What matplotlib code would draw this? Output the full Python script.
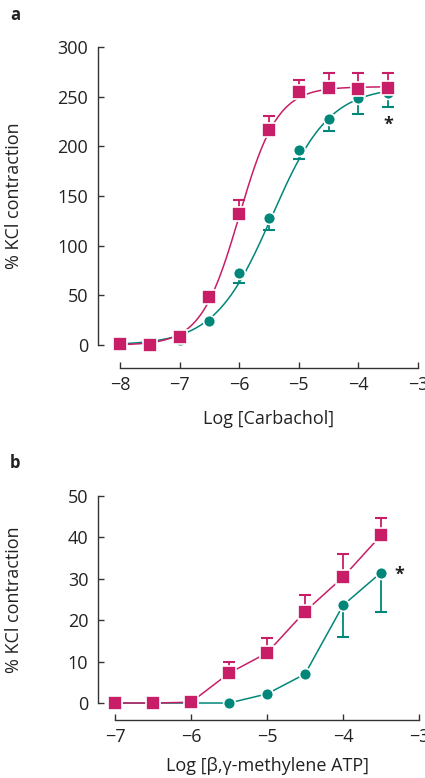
import numpy as np
import matplotlib
matplotlib.use("Agg")
import matplotlib.pyplot as plt

plt.rcParams['font.family'] = ['Open Sans', 'DejaVu Sans']

PINK = '#c81e67'
TEAL = '#00877a'
AXC = '#333333'

# ---- panel a : carbachol ----
carb_x = [-8, -7.5, -7, -6.5, -6, -5.5, -5, -4.5, -4, -3.5]
carb_pink = [1, 0, 8, 48, 132, 216, 255, 259, 258, 259]
carb_pink_err = [0, 0, 0, 0, 14, 15, 12, 15, 16, 15]
carb_teal = [0, 0, 5, 24.5, 73, 128, 196, 228, 249, 254]
carb_teal_err = [0, 0, 0, 0, 10, 12, 9, 13, 16, 14]
# fitted sigmoid parameters (top, logEC50, hill slope)
carb_pink_fit = (260, -6.0, 1.35)
carb_teal_fit = (260, -5.45, 0.9)

# ---- panel b : beta,gamma-methylene ATP ----
atp_x = [-7, -6.5, -6, -5.5, -5, -4.5, -4, -3.5]
atp_pink = [0, 0, 0.2, 7.2, 12.1, 22.1, 30.4, 40.5]
atp_pink_err = [0, 0, 0, 2.8, 3.5, 4.1, 5.6, 4.3]
atp_teal = [0, 0, 0, 0, 2.2, 7.0, 23.6, 31.5]
atp_teal_err = [0, 0, 0, 0, 0, 0, 7.6, 9.6]


def hill(x, top, logec50, h):
    return top / (1 + 10 ** ((logec50 - x) * h))


def style_axes(ax, xb, yb, xticks, yticks):
    for s in ['top', 'right']:
        ax.spines[s].set_visible(False)
    for s in ['left', 'bottom']:
        ax.spines[s].set_color(AXC)
        ax.spines[s].set_linewidth(1.0)
    ax.spines['bottom'].set_bounds(*xb)
    ax.spines['left'].set_bounds(*yb)
    ax.set_xticks(xticks)
    ax.set_yticks(yticks)
    ax.tick_params(axis='both', direction='in', length=4.5, width=1.0,
                   color=AXC, labelsize=13, labelcolor='#222222')
    ax.tick_params(axis='y', pad=7)
    ax.tick_params(axis='x', pad=6)


def draw_series(ax, x, y, err, color, marker, ms, up, fit=None, xfit=None):
    if fit is not None:
        ax.plot(xfit, hill(xfit, *fit), color=color, lw=1.1, zorder=2)
    else:
        ax.plot(x, y, color=color, lw=1.1, zorder=2)
    yerr = [np.zeros(len(err)), err] if up else [err, np.zeros(len(err))]
    ax.errorbar(x, y, yerr=yerr, fmt='none', ecolor=color, elinewidth=1.3,
                capsize=4.3, capthick=1.5, zorder=3)
    ax.plot(x, y, ls='none', marker=marker, ms=ms, color=color,
            mec='white', mew=1.2, zorder=4, clip_on=False)


fig = plt.figure(figsize=(4.25, 7.78), dpi=100)

# panel a
ax1 = fig.add_axes([98 / 425, 1 - 368 / 778, 320 / 425, 321 / 778])
xfit = np.linspace(-8, -3.5, 300)
draw_series(ax1, carb_x, carb_teal, carb_teal_err, TEAL, 'o', 8.5, False,
            carb_teal_fit, xfit)
draw_series(ax1, carb_x, carb_pink, carb_pink_err, PINK, 's', 9.5, True,
            carb_pink_fit, xfit)
ax1.set_xlim(-8.37, -3)
ax1.set_ylim(-23, 300)
style_axes(ax1, (-8, -3), (0, 300), range(-8, -2), range(0, 301, 50))
ax1.text(-3.5, 222, '*', ha='center', va='center', fontsize=13,
         color='#222222', fontweight='bold')
ax1.set_xlabel('Log [Carbachol]', fontsize=13, color='#222222')
ax1.set_ylabel('% KCl contraction', fontsize=13, color='#222222')
ax1.xaxis.set_label_coords(0.534, -0.13)
ax1.yaxis.set_label_coords(-0.235, 0.536)

# panel b
ax2 = fig.add_axes([98 / 425, 1 - 720 / 778, 321 / 425, 224 / 778])
draw_series(ax2, atp_x, atp_teal, atp_teal_err, TEAL, 'o', 8.5, False)
draw_series(ax2, atp_x, atp_pink, atp_pink_err, PINK, 's', 9.5, True)
ax2.set_xlim(-7.224, -3)
ax2.set_ylim(-4.1, 50)
style_axes(ax2, (-7, -3), (0, 50), range(-7, -2), range(0, 51, 10))
ax2.text(-3.26, 31.1, '*', ha='center', va='center', fontsize=13,
         color='#222222', fontweight='bold')
ax2.set_xlabel('Log [β,γ-methylene ATP]', fontsize=13, color='#222222')
ax2.set_ylabel('% KCl contraction', fontsize=13, color='#222222')
ax2.xaxis.set_label_coords(0.527, -0.165)
ax2.yaxis.set_label_coords(-0.235, 0.536)

fig.text(15 / 425, 1 - 15 / 778, 'a', fontsize=12, fontweight='bold',
         ha='center', va='center', color='#222222')
fig.text(15 / 425, 1 - 463 / 778, 'b', fontsize=12, fontweight='bold',
         ha='center', va='center', color='#222222')

fig.savefig('out.png', dpi=100)
